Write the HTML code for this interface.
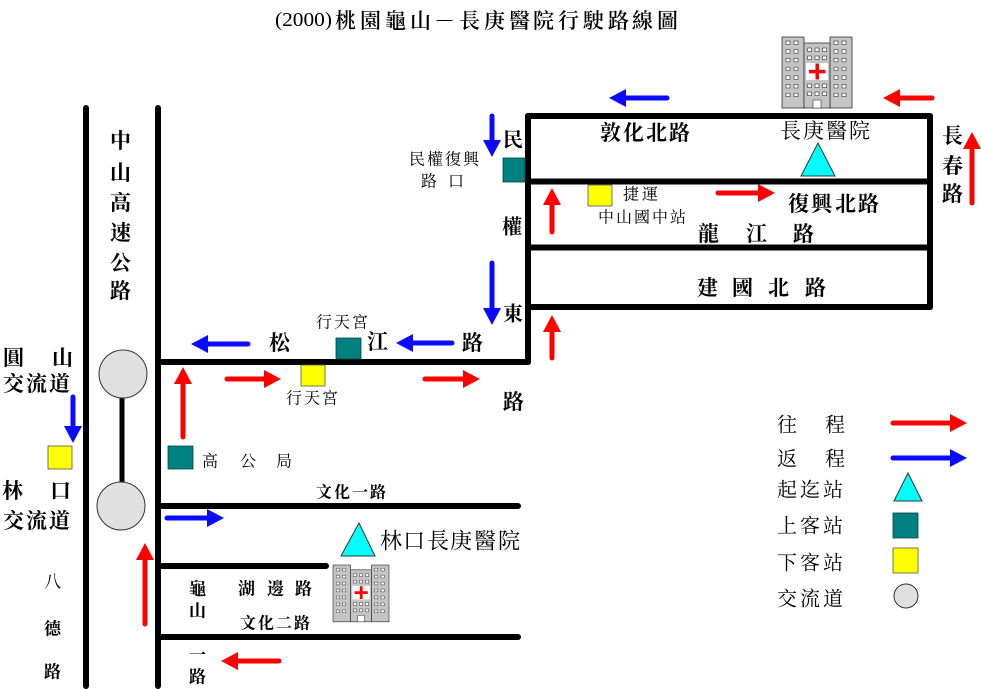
<!DOCTYPE html>
<html><head><meta charset="utf-8">
<style>
html,body{margin:0;padding:0;background:#fff;}
svg{display:block;}
text{font-family:"Noto Serif CJK SC","Noto Serif CJK TC","Liberation Serif",serif;dominant-baseline:central;fill:#000;}
.b{font-weight:bold;}
</style></head>
<body>
<svg width="981" height="689" viewBox="0 0 981 689" xmlns="http://www.w3.org/2000/svg">
<defs>
<g id="hosp">
  <rect x="0" y="0" width="22" height="71" fill="#c4c4c4" stroke="#333" stroke-width="0.8"/>
  <rect x="48" y="0" width="22" height="71" fill="#c4c4c4" stroke="#333" stroke-width="0.8"/>
  <rect x="22" y="6" width="26" height="65" fill="#c4c4c4" stroke="#333" stroke-width="0.8"/>
  <g fill="#fff" stroke="#333" stroke-width="0.6">
    <rect x="4" y="4" width="4" height="3.5"/><rect x="12" y="4" width="4" height="3.5"/>
    <rect x="4" y="12.7" width="4" height="3.5"/><rect x="12" y="12.7" width="4" height="3.5"/>
    <rect x="4" y="21.4" width="4" height="3.5"/><rect x="12" y="21.4" width="4" height="3.5"/>
    <rect x="4" y="30.1" width="4" height="3.5"/><rect x="12" y="30.1" width="4" height="3.5"/>
    <rect x="4" y="38.8" width="4" height="3.5"/><rect x="12" y="38.8" width="4" height="3.5"/>
    <rect x="4" y="47.5" width="4" height="3.5"/><rect x="12" y="47.5" width="4" height="3.5"/>
    <rect x="4" y="56.2" width="4" height="3.5"/><rect x="12" y="56.2" width="4" height="3.5"/>
    <rect x="52" y="4" width="4" height="3.5"/><rect x="60" y="4" width="4" height="3.5"/>
    <rect x="52" y="12.7" width="4" height="3.5"/><rect x="60" y="12.7" width="4" height="3.5"/>
    <rect x="52" y="21.4" width="4" height="3.5"/><rect x="60" y="21.4" width="4" height="3.5"/>
    <rect x="52" y="30.1" width="4" height="3.5"/><rect x="60" y="30.1" width="4" height="3.5"/>
    <rect x="52" y="38.8" width="4" height="3.5"/><rect x="60" y="38.8" width="4" height="3.5"/>
    <rect x="52" y="47.5" width="4" height="3.5"/><rect x="60" y="47.5" width="4" height="3.5"/>
    <rect x="52" y="56.2" width="4" height="3.5"/><rect x="60" y="56.2" width="4" height="3.5"/>
    <rect x="25.5" y="11" width="4" height="3.5"/><rect x="33" y="11" width="4" height="3.5"/><rect x="40.5" y="11" width="4" height="3.5"/>
    <rect x="25.5" y="19" width="4" height="3.5"/><rect x="33" y="19" width="4" height="3.5"/><rect x="40.5" y="19" width="4" height="3.5"/>
    <rect x="25.5" y="47" width="4" height="3.5"/><rect x="33" y="47" width="4" height="3.5"/><rect x="40.5" y="47" width="4" height="3.5"/>
    <rect x="25.5" y="55" width="4" height="3.5"/><rect x="33" y="55" width="4" height="3.5"/><rect x="40.5" y="55" width="4" height="3.5"/>
    <rect x="31" y="63" width="8" height="8"/>
  </g>
  <rect x="24" y="26" width="22" height="17" fill="#fff"/>
  <rect x="33.5" y="26.5" width="3.5" height="16" fill="#f00"/>
  <rect x="27" y="32.8" width="16.5" height="3.5" fill="#f00"/>
</g>
</defs>

<!-- Title -->
<text x="275" y="20" font-size="20" textLength="57" lengthAdjust="spacingAndGlyphs" style="font-family:'Liberation Serif',serif">(2000)</text>
<text x="335 360 385 410 434 459 484 509 533 558 583 608 632 657" y="20" font-size="21" font-weight="600">桃園龜山－長庚醫院行駛路線圖</text>

<!-- Roads -->
<g stroke="#000" stroke-width="6" stroke-linecap="round" fill="none">
  <line x1="86" y1="108" x2="86" y2="686"/>
  <line x1="158" y1="108" x2="158" y2="686"/>
  <line x1="158" y1="362" x2="528" y2="362"/>
  <line x1="528" y1="116" x2="528" y2="362"/>
  <line x1="528" y1="116" x2="930" y2="116"/>
  <line x1="930" y1="116" x2="930" y2="307"/>
  <line x1="528" y1="181.5" x2="930" y2="181.5"/>
  <line x1="528" y1="247.5" x2="930" y2="247.5"/>
  <line x1="528" y1="307" x2="930" y2="307"/>
  <line x1="158" y1="506" x2="518" y2="506"/>
  <line x1="158" y1="566" x2="326" y2="566"/>
  <line x1="158" y1="637" x2="518" y2="637"/>
  <line x1="122" y1="398" x2="122" y2="482" stroke-width="5"/>
</g>

<!-- Interchange circles -->
<circle cx="123" cy="374" r="24" fill="#e0e0e0" stroke="#333" stroke-width="1"/>
<circle cx="121" cy="506" r="24" fill="#e0e0e0" stroke="#333" stroke-width="1"/>

<!-- Hospitals -->
<use href="#hosp" x="782" y="37"/>
<use href="#hosp" transform="translate(333,565) scale(0.8)"/>

<!-- Triangles -->
<polygon points="818,143 801,176 835,176" fill="#00ffff" stroke="#333" stroke-width="1"/>
<polygon points="359,523 341,556 375,556" fill="#00ffff" stroke="#333" stroke-width="1"/>

<!-- Stops -->
<rect x="503" y="158" width="22" height="24" fill="#008080" stroke="#044" stroke-width="0.8"/>
<rect x="588" y="185" width="24" height="21" fill="#ffff00" stroke="#555" stroke-width="0.8"/>
<rect x="336" y="338" width="25" height="21" fill="#008080" stroke="#044" stroke-width="0.8"/>
<rect x="301" y="365" width="24" height="21" fill="#ffff00" stroke="#555" stroke-width="0.8"/>
<rect x="168" y="446" width="25" height="23" fill="#008080" stroke="#044" stroke-width="0.8"/>
<rect x="48" y="446" width="24" height="23" fill="#ffff00" stroke="#555" stroke-width="0.8"/>

<!-- Arrows -->
<g stroke-width="5" stroke-linecap="round">
  <g stroke="#0a0aff" fill="#0a0aff">
    <line x1="667" y1="98" x2="624" y2="98"/><polygon stroke="none" points="609,98 626,89 626,107"/>
    <line x1="492" y1="116" x2="492" y2="142"/><polygon stroke="none" points="492,157 483,140 501,140"/>
    <line x1="492" y1="263" x2="492" y2="310"/><polygon stroke="none" points="492,325 483,308 501,308"/>
    <line x1="248" y1="344" x2="206" y2="344"/><polygon stroke="none" points="191,344 208,335 208,353"/>
    <line x1="452" y1="343" x2="411" y2="343"/><polygon stroke="none" points="396,343 413,334 413,352"/>
    <line x1="73" y1="397" x2="73" y2="428"/><polygon stroke="none" points="73,443 64,426 82,426"/>
    <line x1="167" y1="518" x2="209" y2="518"/><polygon stroke="none" points="224,518 207,509 207,527"/>
    <line x1="893" y1="458" x2="952" y2="458"/><polygon stroke="none" points="967,458 950,449 950,467"/>
  </g>
  <g stroke="#ff0000" fill="#ff0000">
    <line x1="932" y1="98" x2="898" y2="98"/><polygon stroke="none" points="883,98 900,89 900,107"/>
    <line x1="972" y1="203" x2="972" y2="147"/><polygon stroke="none" points="972,132 963,149 981,149"/>
    <line x1="552" y1="232" x2="552" y2="203"/><polygon stroke="none" points="552,188 543,205 561,205"/>
    <line x1="718" y1="193" x2="760" y2="193"/><polygon stroke="none" points="775,193 758,184 758,202"/>
    <line x1="552" y1="358" x2="552" y2="330"/><polygon stroke="none" points="552,315 543,332 561,332"/>
    <line x1="227" y1="379" x2="266" y2="379"/><polygon stroke="none" points="281,379 264,370 264,388"/>
    <line x1="425" y1="379" x2="465" y2="379"/><polygon stroke="none" points="480,379 463,370 463,388"/>
    <line x1="183" y1="437" x2="183" y2="382"/><polygon stroke="none" points="183,367 174,384 192,384"/>
    <line x1="145" y1="624" x2="145" y2="558"/><polygon stroke="none" points="145,543 136,560 154,560"/>
    <line x1="279" y1="661" x2="236" y2="661"/><polygon stroke="none" points="221,661 238,652 238,670"/>
    <line x1="893" y1="423" x2="952" y2="423"/><polygon stroke="none" points="967,423 950,414 950,432"/>
  </g>
</g>

<!-- Top-right block labels -->
<text class="b" x="600 623 646 669" y="132" font-size="21">敦化北路</text>
<text x="780 803 826 849" y="130" font-size="21">長庚醫院</text>
<text class="b" x="788 811 835 858" y="203" font-size="21">復興北路</text>
<text class="b" x="698 746 793" y="233" font-size="21">龍江路</text>
<text class="b" x="697 732 768 805" y="287" font-size="21">建國北路</text>
<text class="b" x="942" y="135" font-size="21">長</text>
<text class="b" x="942" y="165" font-size="21">春</text>
<text class="b" x="942" y="193" font-size="21">路</text>
<text class="b" x="503" y="138" font-size="20">民</text>
<text class="b" x="502" y="225" font-size="20">權</text>
<text class="b" x="503" y="312" font-size="20">東</text>
<text x="409 427 445 463" y="158" font-size="16">民權復興</text>
<text x="421 448" y="180" font-size="16">路口</text>
<text x="623 642" y="193" font-size="16">捷運</text>
<text x="598 616 634 652 670" y="216" font-size="16">中山國中站</text>

<!-- Zhongshan freeway -->
<text class="b" x="110" y="140" font-size="21">中</text>
<text class="b" x="110" y="172" font-size="21">山</text>
<text class="b" x="110" y="202" font-size="21">高</text>
<text class="b" x="110" y="232" font-size="21">速</text>
<text class="b" x="110" y="262" font-size="21">公</text>
<text class="b" x="110" y="290" font-size="21">路</text>

<!-- Songjiang Rd -->
<text x="316 334 352" y="321" font-size="16">行天宮</text>
<text x="286 304 322" y="397" font-size="16">行天宮</text>
<text class="b" x="269" y="342" font-size="21">松</text>
<text class="b" x="367" y="341" font-size="21">江</text>
<text class="b" x="462" y="342" font-size="21">路</text>
<text class="b" x="503" y="401" font-size="21">路</text>

<!-- Interchanges -->
<text class="b" x="3 52" y="357" font-size="21">圓山</text>
<text class="b" x="3 26 49" y="383" font-size="21">交流道</text>
<text class="b" x="2 50" y="490" font-size="21">林口</text>
<text class="b" x="3 26 49" y="520" font-size="21">交流道</text>

<!-- Linkou area -->
<text x="202 240 276" y="460" font-size="16">高公局</text>
<text class="b" x="316 334 352 370" y="491" font-size="16">文化一路</text>
<text x="380 403 427 450 474 498" y="540" font-size="22">林口長庚醫院</text>
<text class="b" x="189" y="587" font-size="17">龜</text>
<text class="b" x="189" y="609" font-size="17">山</text>
<text class="b" x="238 267 295" y="587" font-size="17">湖邊路</text>
<text class="b" x="240 258 276 294" y="622" font-size="16">文化二路</text>
<text class="b" x="189" y="653" font-size="17">一</text>
<text class="b" x="189" y="675" font-size="17">路</text>
<text x="44" y="580" font-size="17">八</text>
<text class="b" x="44" y="627" font-size="17">德</text>
<text class="b" x="44" y="670" font-size="17">路</text>

<!-- Legend -->
<text x="777 825" y="423" font-size="20">往程</text>
<text x="777 825" y="457" font-size="20">返程</text>
<text x="777 800 823" y="488" font-size="20">起迄站</text>
<text x="777 800 823" y="524" font-size="20">上客站</text>
<text x="777 800 823" y="561" font-size="20">下客站</text>
<text x="777 800 823" y="597" font-size="20">交流道</text>
<polygon points="908,473 894,501 922,501" fill="#00ffff" stroke="#333" stroke-width="1"/>
<rect x="893" y="513" width="25" height="25" fill="#008080" stroke="#044" stroke-width="0.8"/>
<rect x="893" y="548" width="25" height="25" fill="#ffff00" stroke="#555" stroke-width="0.8"/>
<circle cx="906" cy="596" r="12" fill="#e0e0e0" stroke="#333" stroke-width="1"/>
</svg>
</body></html>
